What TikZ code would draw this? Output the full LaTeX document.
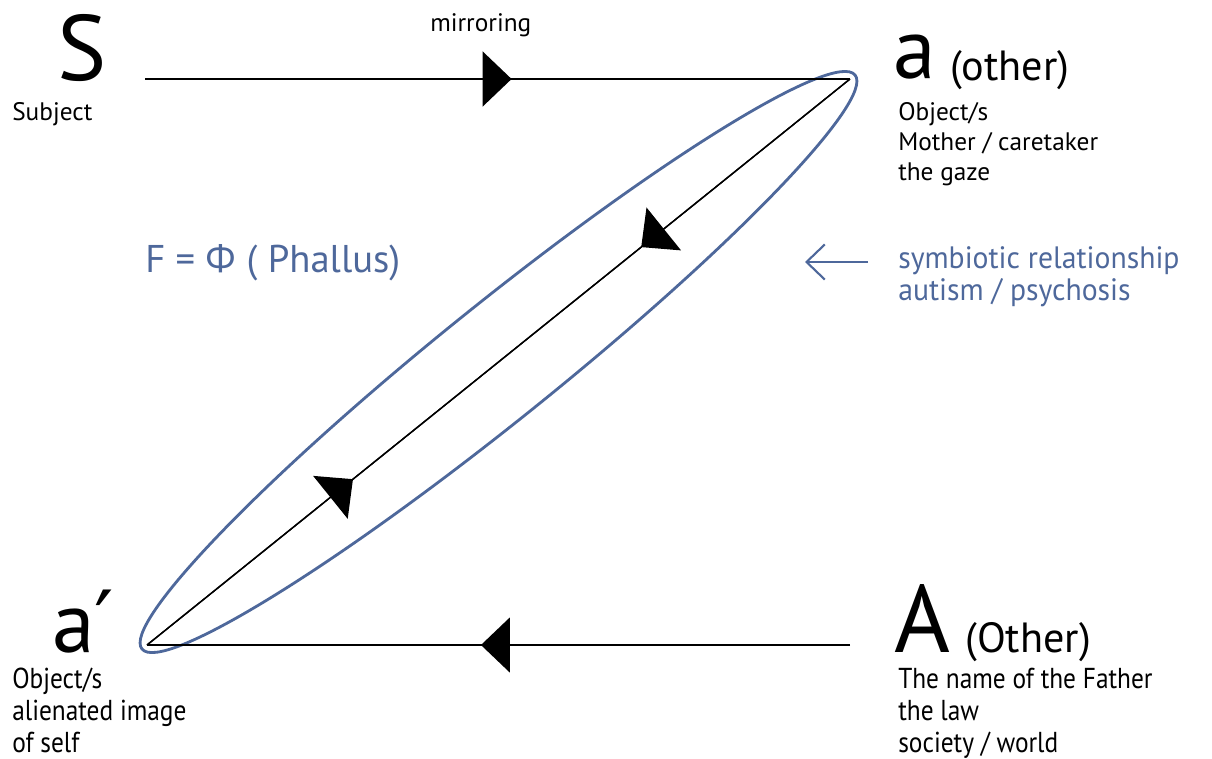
\documentclass[tikz,border=0pt]{standalone}
\usepackage{fontspec}
\setmainfont{PT Sans}
\newfontfamily\grk{Open Sans}
\newfontfamily\primefont{DejaVu Sans}
\newfontfamily\narrow[FakeStretch=0.88]{PT Sans}
\newfontfamily\slightnarrow[FakeStretch=0.96]{PT Sans}
\usetikzlibrary{arrows.meta,decorations.markings}
\definecolor{lacanblue}{RGB}{78,104,155}
\begin{document}
\begin{tikzpicture}[x=0.025cm,y=-0.025cm,
  lbl/.style={inner sep=0,anchor=base west,font=\fontsize{18}{21}\selectfont},
  nlbl/.style={inner sep=0,anchor=base west,font=\narrow\fontsize{20.5}{22}\selectfont},
  biglbl/.style={inner sep=0,anchor=base west,font=\fontsize{66}{70}\selectfont},
  midlbl/.style={inner sep=0,anchor=base west,font=\fontsize{30}{32}\selectfont},
  bluelbl/.style={inner sep=0,anchor=base west,text=lacanblue,font=\slightnarrow\fontsize{22}{26}\selectfont},
  conn/.style={line width=1.4pt},
  diag/.style={line width=1pt},
  blueline/.style={draw=lacanblue,line width=2pt},
  midarrow/.style={postaction={decorate},decoration={markings,
     mark=at position #1 with {\arrow{Triangle[length=20.6pt,width=39pt]}}}}
]
\useasboundingbox (0,0) rectangle (1212,758);

% corner points
\coordinate (Sp) at (145,79);
\coordinate (ap) at (850,79);
\coordinate (aprime) at (147,645);
\coordinate (Ap) at (850,645);
\coordinate (C) at (498.5,362);

% top-left
\node[biglbl] (S) at (57,80) {S};
\node[lbl] (subj) at (12,120) {Subject};
\node[lbl] (mirr) at (430,31) {mirroring};

% top-right
\node[biglbl,font=\fontsize{61}{64}\selectfont] (a) at (893,78) {a};
\node[midlbl] (aother) at (950,80) {(other)};
\node[lbl] (a1) at (898,120) {Object/s};
\node[lbl] (a2) at (898,150) {Mother / caretaker};
\node[lbl] (a3) at (898,180) {the gaze};

% bottom-left
\node[biglbl,font=\fontsize{61}{64}\selectfont] (ap2) at (52,652) {a{\primefont ′}};
\node[nlbl] (b1) at (12,688) {Object/s};
\node[nlbl] (b2) at (12,720) {alienated image};
\node[nlbl] (b3) at (12,752) {of self};

% bottom-right
\node[biglbl,font=\fontsize{68}{70}\selectfont] (A) at (894,652) {A};
\node[midlbl] (Aother) at (965,652) {(Other)};
\node[nlbl] (c1) at (898,688) {The name of the Father};
\node[nlbl] (c2) at (898,720) {the law};
\node[nlbl] (c3) at (898,752) {society / world};

% blue texts
\node[bluelbl,font=\fontsize{27.5}{30}\selectfont] (phi) at (145,272) {F = {\grk Φ} ( Phallus)};
\node[bluelbl] (sym1) at (898,268) {symbiotic relationship};
\node[bluelbl] (sym2) at (898,300) {autism / psychosis};
\coordinate (bt) at (868,262);
\coordinate (bh) at (805,262);
\draw[draw=lacanblue,line width=1.5pt,-{Straight Barb[length=13pt,width=25pt]}] (bt) -- (bh);

% ellipse
\draw[blueline] (C) [rotate around={38.83:(C)}] ellipse [x radius=11.44cm,y radius=1.45cm];

% connectors
\draw[conn,midarrow=0.52] (Sp) -- (ap);
\draw[conn,midarrow=0.525] (Ap) -- (aprime);
\draw[diag,midarrow=0.297] (ap) -- (aprime);
\draw[diag,midarrow=0.293] (aprime) -- (ap);
\end{tikzpicture}
\end{document}
